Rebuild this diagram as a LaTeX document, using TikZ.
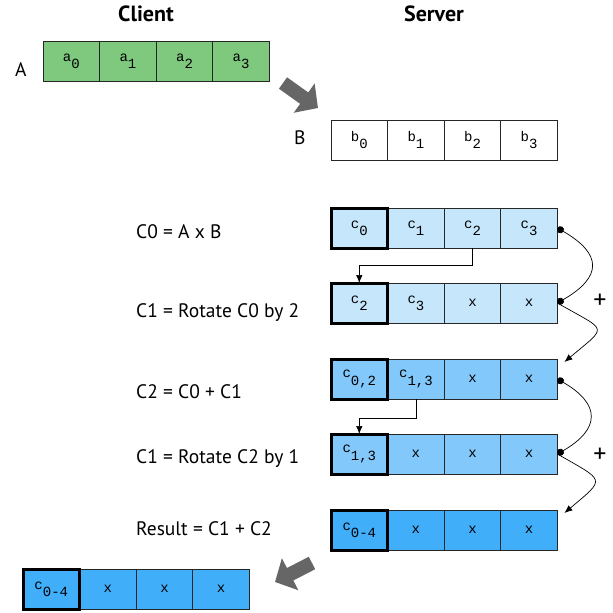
\documentclass[tikz,border=0pt]{standalone}
\usepackage{fontspec}
\setmainfont{PT Sans}
\newfontfamily\cellfont{Liberation Mono}
\usetikzlibrary{positioning,arrows.meta,calc}

\definecolor{agreen}{RGB}{127,201,127}
\definecolor{cpale}{RGB}{198,230,251}
\definecolor{cmid}{RGB}{130,200,250}
\definecolor{cdeep}{RGB}{65,174,250}
\definecolor{bigarrow}{RGB}{102,102,102}

\newcommand{\ix}[2]{\raisebox{.22em}{#1}\raisebox{-.3em}{#2}}
\tikzset{dot/.tip={Circle[length=7pt]}}

\begin{document}
\begin{tikzpicture}[x=1pt,y=1pt,>={Latex[length=8pt,width=6.5pt]}]
\tikzstyle{cell}=[draw=black!85, line width=0.8pt, minimum width=56.6pt, minimum height=40pt, inner sep=0pt, outer sep=0pt, font=\cellfont\fontsize{14}{14}\selectfont]
\tikzstyle{lbl}=[font=\fontsize{19.5}{19.5}\selectfont, anchor=base west, inner sep=0pt]
\tikzstyle{head}=[font=\bfseries\fontsize{22}{22}\selectfont, anchor=base, inner sep=0pt]
\tikzstyle{link}=[black, line width=0.7pt]
\tikzstyle{jump}=[bigarrow, line width=14pt, -{Triangle[width=35pt,length=17pt]}]
\useasboundingbox (0,0) rectangle (613,-613);

\node[head] (client) at (146,-21) {Client};
\node[head] (server) at (434,-21) {Server};

% the rows of slots
\foreach \row/\x/\y/\col/\a/\b/\c/\d in {
  A/43/-61/agreen/{\ix{a}{0}}/{\ix{a}{1}}/{\ix{a}{2}}/{\ix{a}{3}},
  B/331/-140/white/{\ix{b}{0}}/{\ix{b}{1}}/{\ix{b}{2}}/{\ix{b}{3}},
  C0/331/-228/cpale/{\ix{c}{0}}/{\ix{c}{1}}/{\ix{c}{2}}/{\ix{c}{3}},
  C1/331/-303/cpale/{\ix{c}{2}}/{\ix{c}{3}}/x/x,
  C2/331/-379/cmid/{\ix{c}{0,2}}/{\ix{c}{1,3}}/x/x,
  C3/331/-454/cmid/{\ix{c}{1,3}}/x/x/x,
  R/331/-530/cdeep/{\ix{c}{0-4}}/x/x/x,
  F/23/-589/cdeep/{\ix{c}{0-4}}/x/x/x}
{
  \node[cell, fill=\col, anchor=west] (\row0) at (\x,\y) {\a};
  \node[cell, fill=\col, right=0pt of \row0] (\row1) {\b};
  \node[cell, fill=\col, right=0pt of \row1] (\row2) {\c};
  \node[cell, fill=\col, right=0pt of \row2] (\row3) {\d};
}
\foreach \row in {C0,C1,C2,C3,R,F}
  \draw[line width=3pt, black] (\row0.north west) rectangle (\row0.south east);

% labels
\node[lbl] (la) at (15,-76) {A};
\node[lbl] (lb) at (294,-144) {B};
\node[lbl] (l0) at (136,-238) {C0 = A x B};
\node[lbl] (l1) at (136,-317) {C1 = Rotate C0 by 2};
\node[lbl] (l2) at (136,-398) {C2 = C0 + C1};
\node[lbl] (l3) at (136,-463) {C1 = Rotate C2 by 1};
\node[lbl] (lr) at (136,-535) {Result = C1 + C2};
\node[font=\fontsize{26}{26}\selectfont] (p1) at (600,-301) {+};
\node[font=\fontsize{26}{26}\selectfont] (p2) at (600,-455) {+};

% rotations
\draw[link, ->] (C02.south) -- ++(0,-17) -| (C10.north);
\draw[link, ->] (C21.south) -- ++(0,-19) -| (C30.north);

% additions
\coordinate (t1) at ($(C23.north east)+(7,-3)$);
\coordinate (t2) at ($(R3.north east)+(7,-3)$);
\draw[link, dot-dot] (C03.east) .. controls +(-30:52) and +(30:52) .. (C13.east);
\draw[link, ->] (C13.east) .. controls +(-30:58) and +(40:58) .. (t1);
\draw[link, dot-dot] (C23.east) .. controls +(-30:50) and +(30:50) .. (C33.east);
\draw[link, ->] (C33.east) .. controls +(-30:55) and +(40:55) .. (t2);

% send and return
\coordinate (s0) at (283,-83);
\coordinate (s1) at (318,-108);
\coordinate (r0) at (312,-563);
\coordinate (r1) at (275,-582);
\draw[jump] (s0) -- (s1);
\draw[jump] (r0) -- (r1);
\end{tikzpicture}
\end{document}
